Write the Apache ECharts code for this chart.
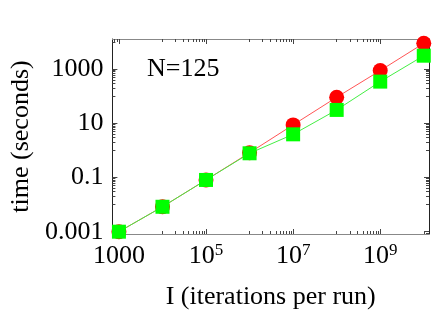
<!DOCTYPE html>
<html>
<head>
<meta charset="utf-8">
<script src="https://cdn.jsdelivr.net/npm/echarts@6/dist/echarts.min.js"></script>
<style>html,body{margin:0;padding:0;background:#fff}#c{width:436px;height:317px}</style>
</head>
<body>
<div id="c"></div>
<script>
// ---- data ----
const iterations = [1e3, 1e4, 1e5, 1e6, 1e7, 1e8, 1e9, 1e10];
const timeRed    = [0.001, 0.0083, 0.081, 0.82, 8.7, 91, 876, 8900];
const timeGreen  = [0.001, 0.0083, 0.081, 0.78, 3.9, 31, 343, 3100];
const xTickExp   = [3, 5, 7, 9];
const xTickText  = ['1000', '10^5', '10^7', '10^9'];
const yTickExp   = [-3, -1, 1, 3];
const yTickText  = ['0.001', '0.1', '10', '1000'];
const xMinorBase = [2, 4, 6, 8, 10];
const yMinorBase = [-4, -2, 0, 2, 4];
const annotation = 'N=125';

// ---- ranges (log10 space) ----
const X_MIN = 2.85, X_MAX = 10.12;
const Y_MIN = -3.085, Y_MAX = 4.107;
const FONT = '"Liberation Serif","Times New Roman",serif';

function minorTicks(bases, lo, hi) {
  const out = [];
  bases.forEach(b => { for (let k = 1; k <= 9; k++) { const v = b + Math.log10(k); if (v > lo && v < hi) out.push(v); } });
  return out;
}
const xMinor = minorTicks(xMinorBase, X_MIN, X_MAX);
const yMinor = minorTicks(yMinorBase, Y_MIN, Y_MAX);

function xLabel(v) {
  const i = xTickExp.indexOf(Math.round(v));
  if (i < 0) return '';
  const t = xTickText[i];
  if (t.indexOf('^') >= 0) { const p = t.split('^'); return '{n|' + p[0] + '}{s|' + p[1] + '}'; }
  return '{n|' + t + '}';
}
function yLabel(v) {
  const i = yTickExp.indexOf(Math.round(v));
  return i < 0 ? '' : yTickText[i];
}

function xAx(pos, vals, len, lineColor, main) {
  return {
    type: 'value', position: pos, min: X_MIN, max: X_MAX,
    axisLine: { show: !!lineColor, onZero: false, lineStyle: { color: lineColor || '#000', width: 1 } },
    axisTick: { show: true, inside: true, length: len, customValues: vals, lineStyle: { color: '#444' } },
    axisLabel: main ? {
      show: true, customValues: xTickExp, formatter: xLabel, margin: 8,
      rich: {
        n: { fontFamily: FONT, fontSize: 26, color: '#000', lineHeight: 28 },
        s: { fontFamily: FONT, fontSize: 17, color: '#000', lineHeight: 28, verticalAlign: 'top' }
      }
    } : { show: false },
    splitLine: { show: false },
    name: main ? 'I (iterations per run)' : '',
    nameLocation: 'middle', nameGap: 50,
    nameTextStyle: { fontFamily: FONT, fontSize: 26, color: '#000' }
  };
}
function yAx(pos, vals, len, lineColor, main) {
  return {
    type: 'value', position: pos, min: Y_MIN, max: Y_MAX,
    axisLine: { show: !!lineColor, onZero: false, lineStyle: { color: lineColor || '#000', width: 1 } },
    axisTick: { show: true, inside: true, length: len, customValues: vals, lineStyle: { color: '#444' } },
    axisLabel: main ? {
      show: true, customValues: yTickExp, formatter: yLabel, margin: 9,
      fontFamily: FONT, fontSize: 26, color: '#000'
    } : { show: false },
    splitLine: { show: false },
    name: main ? 'time (seconds)' : '',
    nameLocation: 'middle', nameGap: 78, nameRotate: 90,
    nameTextStyle: { fontFamily: FONT, fontSize: 26, color: '#000' }
  };
}

const chart = echarts.init(document.getElementById('c'), null, { renderer: 'canvas' });
chart.setOption({
  animation: false,
  backgroundColor: '#fff',
  grid: { left: 111, right: 7, top: 39, bottom: 83, containLabel: false },
  xAxis: [
    xAx('bottom', xTickExp, 5, '#888', true),
    xAx('bottom', xMinor, 3, null, false),
    xAx('top', xTickExp, 5, '#888', false),
    xAx('top', xMinor, 3, null, false)
  ],
  yAxis: [
    yAx('left', yTickExp, 5, '#222', true),
    yAx('left', yMinor, 3, null, false),
    yAx('right', yTickExp, 5, '#222', false),
    yAx('right', yMinor, 3, null, false)
  ],
  graphic: [{
    type: 'text', left: 147, top: 56,
    style: { text: annotation, font: '26px ' + FONT, fill: '#000' }
  }],
  series: [
    {
      type: 'line', xAxisIndex: 0, yAxisIndex: 0,
      data: iterations.map((v, i) => [Math.log10(v), Math.log10(timeRed[i])]),
      symbol: 'circle', symbolSize: 15,
      itemStyle: { color: '#ff0000' },
      lineStyle: { color: '#ff5555', width: 1 },
      z: 2
    },
    {
      type: 'line', xAxisIndex: 0, yAxisIndex: 0,
      data: iterations.map((v, i) => [Math.log10(v), Math.log10(timeGreen[i])]),
      symbol: 'rect', symbolSize: 14,
      itemStyle: { color: '#00ff00' },
      lineStyle: { color: '#44ee44', width: 1 },
      z: 3
    }
  ]
});
</script>
</body>
</html>
